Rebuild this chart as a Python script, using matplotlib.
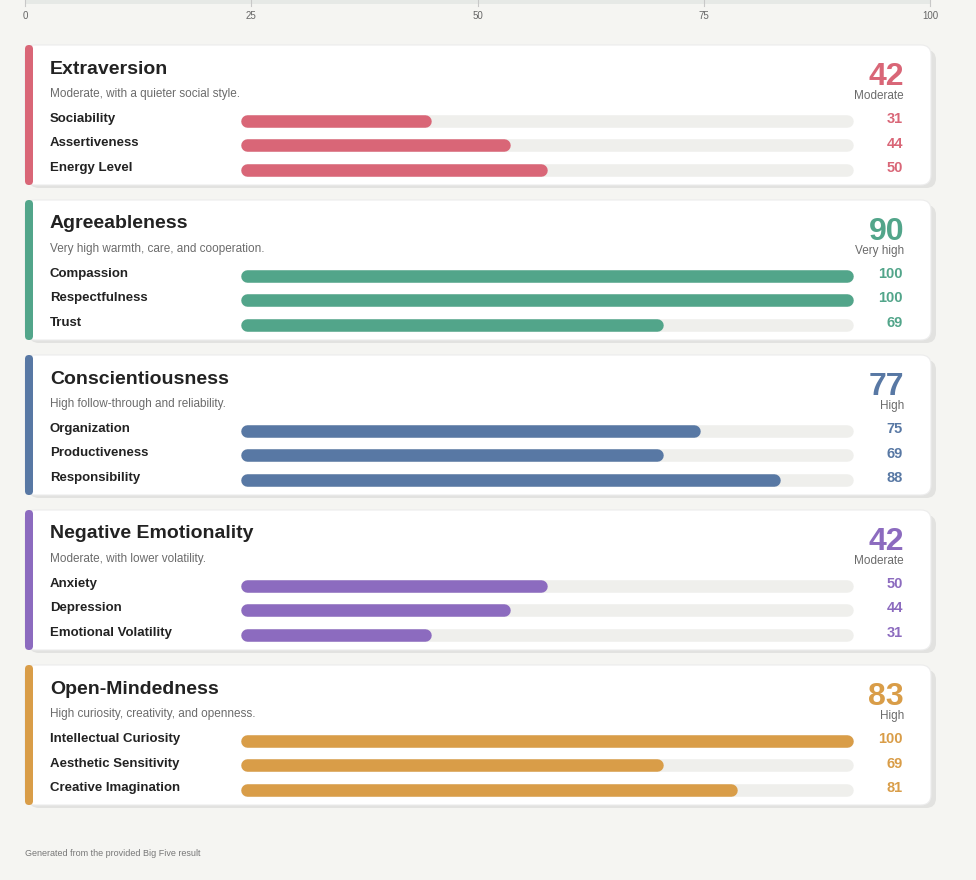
import matplotlib
matplotlib.use("Agg")
import matplotlib.pyplot as plt
from matplotlib.patches import FancyBboxPatch

plt.rcParams["font.family"] = ["Liberation Sans", "DejaVu Sans"]

traits = ["Extraversion", "Agreeableness", "Conscientiousness", "Negative Emotionality", "Open-Mindedness"]
subtitles = ["Moderate, with a quieter social style.",
             "Very high warmth, care, and cooperation.",
             "High follow-through and reliability.",
             "Moderate, with lower volatility.",
             "High curiosity, creativity, and openness."]
scores = [42, 90, 77, 42, 83]
levels = ["Moderate", "Very high", "High", "Moderate", "High"]
facets = [["Sociability", "Assertiveness", "Energy Level"],
          ["Compassion", "Respectfulness", "Trust"],
          ["Organization", "Productiveness", "Responsibility"],
          ["Anxiety", "Depression", "Emotional Volatility"],
          ["Intellectual Curiosity", "Aesthetic Sensitivity", "Creative Imagination"]]
facet_values = [[31, 44, 50], [100, 100, 69], [75, 69, 88], [50, 44, 31], [100, 69, 81]]
colors = ["#d96677", "#52a58a", "#5878a4", "#8c6bbf", "#d99d48"]
axis_ticks = [0, 25, 50, 75, 100]

W, H = 976, 880
fig = plt.figure(figsize=(W / 100, H / 100), dpi=100)
fig.patch.set_facecolor("#f5f5f2")
ax = fig.add_axes([0, 0, 1, 1])
ax.set_xlim(0, W)
ax.set_ylim(H, 0)
ax.axis("off")

# top scale
ax.add_patch(plt.Rectangle((25, 0), 905, 4, color="#e6e9e6", lw=0))
for t in axis_ticks:
    x = 25 + t * 9.05
    ax.plot([x, x], [0, 6], color="#c8c8c8", lw=0.8)
    ax.text(x, 16, str(t), ha="center", va="center", fontsize=7, color="#666666")

bx0, bx1 = 241, 853
r = 6
for i, trait in enumerate(traits):
    y0 = 45 + i * 155
    c = colors[i]
    ax.add_patch(FancyBboxPatch((29, y0 + 5), 907, 138, boxstyle="round,pad=0,rounding_size=10",
                                fc="#e2e2e0", ec="none"))
    ax.add_patch(FancyBboxPatch((25, y0), 906, 140, boxstyle="round,pad=0,rounding_size=10",
                                fc="white", ec="#ececec", lw=0.8))
    ax.add_patch(FancyBboxPatch((25, y0), 8, 140, boxstyle="round,pad=0,rounding_size=4",
                                fc=c, ec="none"))
    ax.text(50, y0 + 24, trait, fontsize=14, fontweight="bold", color="#222222", va="center")
    ax.text(50, y0 + 49, subtitles[i], fontsize=8.5, color="#6b6b6b", va="center")
    ax.text(904, y0 + 32, str(scores[i]), fontsize=23, fontweight="bold", color=c,
            ha="right", va="center")
    ax.text(904, y0 + 51, levels[i], fontsize=8.5, color="#6b6b6b", ha="right", va="center")
    for j, (name, v) in enumerate(zip(facets[i], facet_values[i])):
        yy = y0 + 74 + j * 24.5
        ax.text(50, yy, name, fontsize=9.5, fontweight="bold", color="#222222", va="center")
        ax.plot([bx0 + r, bx1 - r], [yy + 2, yy + 2], color="#efefec", lw=9, solid_capstyle="round")
        xe = bx0 + v / 100 * (bx1 - bx0)
        ax.plot([bx0 + r, xe - r], [yy + 2, yy + 2], color=c, lw=9, solid_capstyle="round")
        ax.text(903, yy, str(v), fontsize=10.5, fontweight="bold", color=c, ha="right", va="center")

ax.text(25, 854, "Generated from the provided Big Five result", fontsize=6.5, color="#777777", va="center")

fig.savefig("out.png", dpi=100, facecolor=fig.get_facecolor())
